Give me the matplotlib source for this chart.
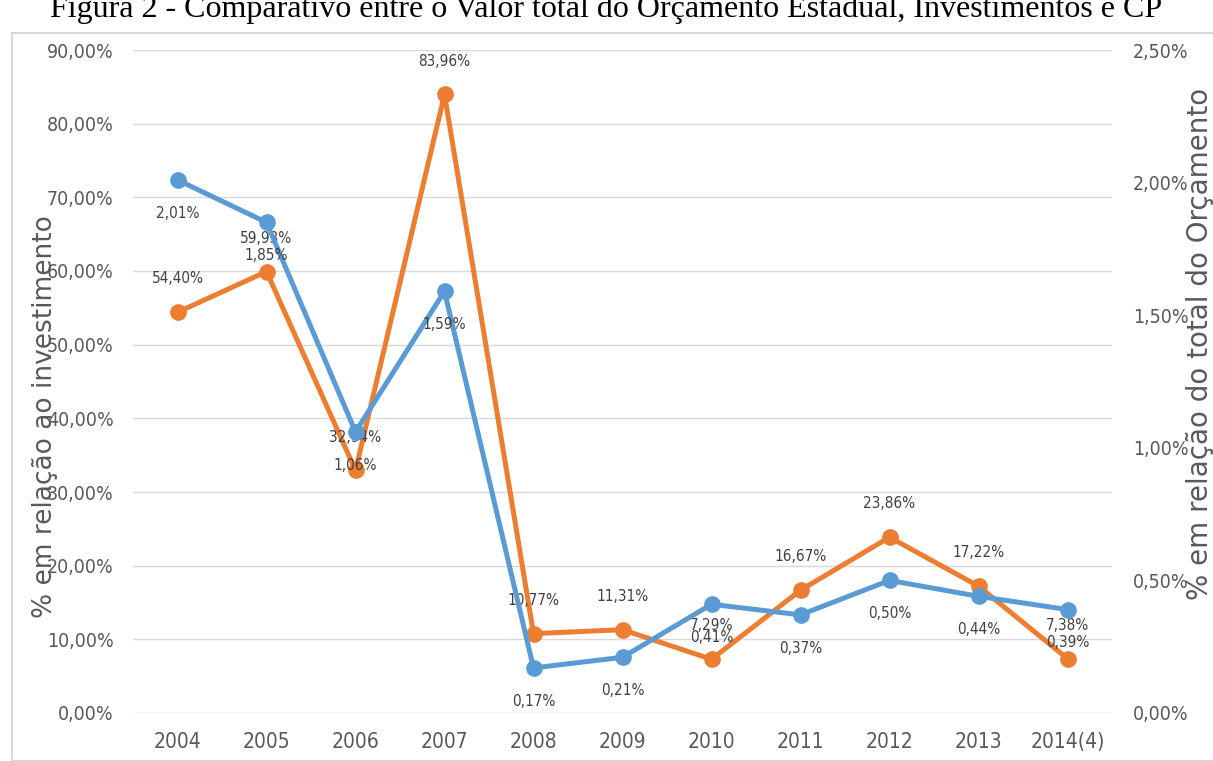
import matplotlib.pyplot as plt
from matplotlib.patches import Rectangle

anos = ["2004", "2005", "2006", "2007", "2008", "2009", "2010", "2011", "2012", "2013", "2014(4)"]
pct_investimento = [54.40, 59.93, 32.94, 83.96, 10.77, 11.31, 7.29, 16.67, 23.86, 17.22, 7.38]
pct_orcamento = [2.01, 1.85, 1.06, 1.59, 0.17, 0.21, 0.41, 0.37, 0.50, 0.44, 0.39]

azul = "#5B9BD5"
laranja = "#ED7D31"
cinza = "#595959"

def fmt(v):
    return ("%.2f%%" % v).replace(".", ",")

fig = plt.figure(figsize=(12.13, 7.61), dpi=100)
W, H = 1213, 761

# moldura do gráfico
fig.patches.append(Rectangle((12 / W, 0), 1.2, 1 - 33 / H, transform=fig.transFigure,
                             fill=False, edgecolor="#D9D9D9", lw=1.5))
fig.text(0.5, 1 - 17 / H, "Figura 2 - Comparativo entre o Valor total do Orçamento Estadual, Investimentos e CP",
         ha="center", va="baseline", fontsize=23, family="Liberation Serif", color="black")

ax = fig.add_axes([133 / W, 1 - 713 / H, (1112 - 133) / W, (713 - 50) / H])
ax2 = ax.twinx()
x = list(range(len(anos)))

ax.plot(x, pct_investimento, color=laranja, lw=3.6, marker="o", ms=11, solid_capstyle="round")
ax2.plot(x, pct_orcamento, color=azul, lw=3.6, marker="o", ms=11, solid_capstyle="round")

for i, v in enumerate(pct_investimento):
    ax.annotate(fmt(v), (i, v), xytext=(0, 24), textcoords="offset points",
                ha="center", va="center", fontsize=11, color="#404040", stretch="condensed")
for i, v in enumerate(pct_orcamento):
    ax2.annotate(fmt(v), (i, v), xytext=(0, -24), textcoords="offset points",
                 ha="center", va="center", fontsize=11, color="#404040", stretch="condensed")

ax.set_xlim(-0.5, len(anos) - 0.5)
ax.set_ylim(0, 90)
ax2.set_ylim(0, 2.5)
ax.set_yticks(range(0, 91, 10))
ax.set_yticklabels([fmt(v) for v in range(0, 91, 10)])
ax2.set_yticks([0, 0.5, 1.0, 1.5, 2.0, 2.5])
ax2.set_yticklabels([fmt(v) for v in [0, 0.5, 1.0, 1.5, 2.0, 2.5]])
ax.set_xticks(x)
ax.set_xticklabels(anos)

ax.grid(axis="y", color="#D9D9D9", lw=1)
ax.set_axisbelow(True)
for a in (ax, ax2):
    for s in a.spines.values():
        s.set_visible(False)
    a.tick_params(length=0, colors=cinza, labelsize=14)
    for t in a.get_yticklabels() + a.get_xticklabels():
        t.set_stretch("condensed")
ax.tick_params(axis="y", pad=14)
ax2.tick_params(axis="y", pad=15)
ax.tick_params(axis="x", pad=14, labelsize=15)

fig.text(45 / W, 1 - 417 / H, "% em relação ao investimento", rotation=90, ha="center", va="center",
         fontsize=19, color=cinza)
fig.text(1200 / W, 1 - 344 / H, "% em relação do total do Orçamento", rotation=90, ha="center", va="center",
         fontsize=20, color=cinza)

fig.savefig("out.png", dpi=100)
